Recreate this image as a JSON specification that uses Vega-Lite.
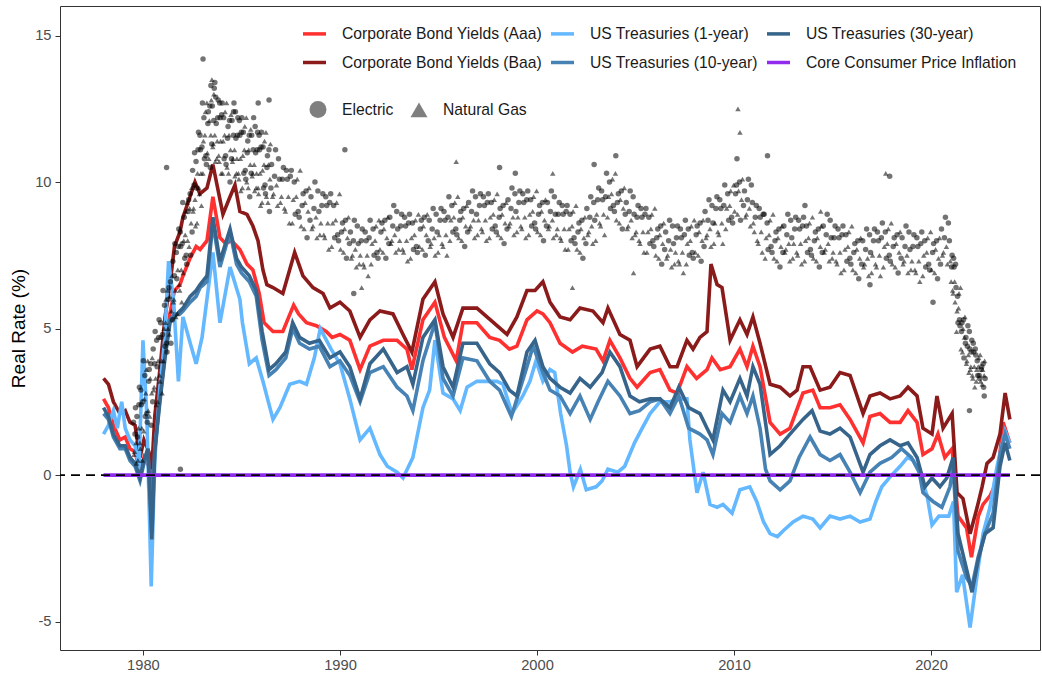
{
"$schema":"https://vega.github.io/schema/vega-lite/v6.json",
"width":980,"height":644,
"autosize":{"type":"none"},
"padding":{"left":60,"top":6,"right":2,"bottom":24},
"background":"white",
"config":{"view":{"stroke":"#333333","strokeWidth":1},"font":"Liberation Sans",
"axis":{"labelFont":"Liberation Sans","labelFontSize":14.7,"labelColor":"#4D4D4D","tickColor":"#333333","tickSize":5,"grid":false,"domain":false,"labelPadding":3,"titleFont":"Liberation Sans","titleFontWeight":"normal","titleColor":"black","titleFontSize":19},
"legend":{"labelFont":"Liberation Sans","labelFontSize":15.7,"labelColor":"#1A1A1A","labelLimit":400,"padding":0}},
"datasets":{
"lines":[
{"d":1978.0,"s":"A","v":2.6},{"d":1978.25,"s":"A","v":2.3},{"d":1978.5,"s":"A","v":1.7},{"d":1978.83,"s":"A","v":1.2},{"d":1979.1,"s":"A","v":1.3},{"d":1979.34,"s":"A","v":0.9},{"d":1979.6,"s":"A","v":0.8},{"d":1979.85,"s":"A","v":0.1},{"d":1980.05,"s":"A","v":0.6},{"d":1980.3,"s":"A","v":0.3},{"d":1980.45,"s":"A","v":-0.5},{"d":1980.6,"s":"A","v":1.2},{"d":1980.86,"s":"A","v":2.8},{"d":1981.12,"s":"A","v":4.5},{"d":1981.37,"s":"A","v":5.5},{"d":1981.6,"s":"A","v":6.3},{"d":1981.88,"s":"A","v":6.5},{"d":1982.03,"s":"A","v":6.8},{"d":1982.39,"s":"A","v":7.4},{"d":1982.7,"s":"A","v":7.8},{"d":1982.9,"s":"A","v":7.7},{"d":1983.25,"s":"A","v":8.0},{"d":1983.55,"s":"A","v":9.5},{"d":1983.91,"s":"A","v":8.1},{"d":1984.2,"s":"A","v":7.9},{"d":1984.5,"s":"A","v":8.0},{"d":1984.92,"s":"A","v":7.7},{"d":1985.28,"s":"A","v":7.2},{"d":1985.58,"s":"A","v":7.0},{"d":1985.9,"s":"A","v":6.2},{"d":1986.15,"s":"A","v":5.2},{"d":1986.6,"s":"A","v":4.9},{"d":1987.1,"s":"A","v":4.9},{"d":1987.65,"s":"A","v":5.8},{"d":1987.9,"s":"A","v":5.5},{"d":1988.3,"s":"A","v":5.2},{"d":1988.8,"s":"A","v":5.1},{"d":1989.3,"s":"A","v":4.9},{"d":1989.6,"s":"A","v":4.7},{"d":1990.0,"s":"A","v":4.8},{"d":1990.5,"s":"A","v":4.6},{"d":1991.02,"s":"A","v":3.6},{"d":1991.52,"s":"A","v":4.4},{"d":1992.2,"s":"A","v":4.6},{"d":1992.9,"s":"A","v":4.6},{"d":1993.4,"s":"A","v":4.3},{"d":1993.65,"s":"A","v":3.6},{"d":1994.21,"s":"A","v":5.3},{"d":1994.82,"s":"A","v":5.9},{"d":1995.3,"s":"A","v":4.7},{"d":1995.9,"s":"A","v":3.9},{"d":1996.24,"s":"A","v":5.2},{"d":1996.95,"s":"A","v":5.2},{"d":1997.6,"s":"A","v":4.7},{"d":1998.1,"s":"A","v":4.6},{"d":1998.6,"s":"A","v":4.3},{"d":1998.98,"s":"A","v":4.4},{"d":1999.49,"s":"A","v":5.3},{"d":2000.0,"s":"A","v":5.6},{"d":2000.3,"s":"A","v":5.5},{"d":2000.66,"s":"A","v":5.2},{"d":2001.17,"s":"A","v":4.5},{"d":2001.8,"s":"A","v":4.2},{"d":2002.3,"s":"A","v":4.4},{"d":2003.0,"s":"A","v":4.3},{"d":2003.35,"s":"A","v":3.9},{"d":2003.7,"s":"A","v":4.6},{"d":2004.21,"s":"A","v":4.0},{"d":2004.72,"s":"A","v":3.3},{"d":2005.08,"s":"A","v":3.0},{"d":2005.74,"s":"A","v":3.5},{"d":2006.24,"s":"A","v":3.6},{"d":2006.75,"s":"A","v":2.9},{"d":2007.11,"s":"A","v":2.8},{"d":2007.61,"s":"A","v":3.7},{"d":2008.1,"s":"A","v":3.3},{"d":2008.63,"s":"A","v":3.6},{"d":2008.88,"s":"A","v":4.0},{"d":2009.3,"s":"A","v":3.6},{"d":2009.8,"s":"A","v":3.7},{"d":2010.3,"s":"A","v":4.3},{"d":2010.66,"s":"A","v":3.7},{"d":2010.96,"s":"A","v":4.4},{"d":2011.32,"s":"A","v":3.7},{"d":2011.83,"s":"A","v":1.8},{"d":2012.34,"s":"A","v":1.4},{"d":2012.84,"s":"A","v":1.6},{"d":2013.5,"s":"A","v":2.8},{"d":2014.0,"s":"A","v":2.9},{"d":2014.37,"s":"A","v":2.3},{"d":2014.87,"s":"A","v":2.3},{"d":2015.38,"s":"A","v":2.4},{"d":2015.89,"s":"A","v":1.9},{"d":2016.55,"s":"A","v":1.1},{"d":2016.9,"s":"A","v":2.0},{"d":2017.41,"s":"A","v":2.1},{"d":2017.92,"s":"A","v":1.8},{"d":2018.43,"s":"A","v":1.8},{"d":2018.83,"s":"A","v":2.2},{"d":2019.29,"s":"A","v":1.8},{"d":2019.59,"s":"A","v":0.7},{"d":2020.05,"s":"A","v":0.9},{"d":2020.35,"s":"A","v":1.4},{"d":2020.7,"s":"A","v":0.6},{"d":2021.07,"s":"A","v":0.9},{"d":2021.37,"s":"A","v":-1.4},{"d":2021.8,"s":"A","v":-1.8},{"d":2022.05,"s":"A","v":-2.8},{"d":2022.4,"s":"A","v":-1.4},{"d":2022.64,"s":"A","v":-1.0},{"d":2023.0,"s":"A","v":-0.7},{"d":2023.35,"s":"A","v":-0.2},{"d":2023.66,"s":"A","v":1.8},{"d":2024.0,"s":"A","v":1.1},
{"d":1978.0,"s":"B","v":3.3},{"d":1978.25,"s":"B","v":3.1},{"d":1978.5,"s":"B","v":2.5},{"d":1978.83,"s":"B","v":2.1},{"d":1979.1,"s":"B","v":2.2},{"d":1979.34,"s":"B","v":1.8},{"d":1979.6,"s":"B","v":1.7},{"d":1979.85,"s":"B","v":0.6},{"d":1980.05,"s":"B","v":1.2},{"d":1980.3,"s":"B","v":0.8},{"d":1980.45,"s":"B","v":0.2},{"d":1980.6,"s":"B","v":2.0},{"d":1980.86,"s":"B","v":3.6},{"d":1981.12,"s":"B","v":5.4},{"d":1981.37,"s":"B","v":6.5},{"d":1981.6,"s":"B","v":7.8},{"d":1981.88,"s":"B","v":8.3},{"d":1982.03,"s":"B","v":8.8},{"d":1982.39,"s":"B","v":9.5},{"d":1982.64,"s":"B","v":10.0},{"d":1982.89,"s":"B","v":9.6},{"d":1983.25,"s":"B","v":9.8},{"d":1983.55,"s":"B","v":10.6},{"d":1983.91,"s":"B","v":9.4},{"d":1984.06,"s":"B","v":8.9},{"d":1984.42,"s":"B","v":9.5},{"d":1984.67,"s":"B","v":9.9},{"d":1984.92,"s":"B","v":9.0},{"d":1985.28,"s":"B","v":8.9},{"d":1985.58,"s":"B","v":8.5},{"d":1985.84,"s":"B","v":8.0},{"d":1986.09,"s":"B","v":7.0},{"d":1986.29,"s":"B","v":6.5},{"d":1986.6,"s":"B","v":6.4},{"d":1987.1,"s":"B","v":6.2},{"d":1987.7,"s":"B","v":7.6},{"d":1988.12,"s":"B","v":6.8},{"d":1988.63,"s":"B","v":6.4},{"d":1989.14,"s":"B","v":6.2},{"d":1989.49,"s":"B","v":5.7},{"d":1990.0,"s":"B","v":5.9},{"d":1990.5,"s":"B","v":5.6},{"d":1991.02,"s":"B","v":4.7},{"d":1991.52,"s":"B","v":5.3},{"d":1992.03,"s":"B","v":5.6},{"d":1992.69,"s":"B","v":5.5},{"d":1993.2,"s":"B","v":4.8},{"d":1993.65,"s":"B","v":4.2},{"d":1994.21,"s":"B","v":6.0},{"d":1994.82,"s":"B","v":6.6},{"d":1995.23,"s":"B","v":5.5},{"d":1995.74,"s":"B","v":4.7},{"d":1996.24,"s":"B","v":5.7},{"d":1996.95,"s":"B","v":5.7},{"d":1997.46,"s":"B","v":5.4},{"d":1997.97,"s":"B","v":5.1},{"d":1998.48,"s":"B","v":4.8},{"d":1998.98,"s":"B","v":5.4},{"d":1999.49,"s":"B","v":6.3},{"d":1999.9,"s":"B","v":6.3},{"d":2000.3,"s":"B","v":6.6},{"d":2000.66,"s":"B","v":5.9},{"d":2001.17,"s":"B","v":5.4},{"d":2001.68,"s":"B","v":5.3},{"d":2002.18,"s":"B","v":5.7},{"d":2002.84,"s":"B","v":5.6},{"d":2003.35,"s":"B","v":5.2},{"d":2003.6,"s":"B","v":5.7},{"d":2004.21,"s":"B","v":4.8},{"d":2004.72,"s":"B","v":4.6},{"d":2005.08,"s":"B","v":3.7},{"d":2005.74,"s":"B","v":4.3},{"d":2006.24,"s":"B","v":4.4},{"d":2006.75,"s":"B","v":3.7},{"d":2007.11,"s":"B","v":3.7},{"d":2007.61,"s":"B","v":4.6},{"d":2007.92,"s":"B","v":4.3},{"d":2008.27,"s":"B","v":4.7},{"d":2008.63,"s":"B","v":4.9},{"d":2008.83,"s":"B","v":7.2},{"d":2009.14,"s":"B","v":6.5},{"d":2009.39,"s":"B","v":6.4},{"d":2009.8,"s":"B","v":4.6},{"d":2010.3,"s":"B","v":5.3},{"d":2010.66,"s":"B","v":4.8},{"d":2010.96,"s":"B","v":5.4},{"d":2011.32,"s":"B","v":4.5},{"d":2011.83,"s":"B","v":3.1},{"d":2012.34,"s":"B","v":3.0},{"d":2012.84,"s":"B","v":2.7},{"d":2013.2,"s":"B","v":2.9},{"d":2013.5,"s":"B","v":3.7},{"d":2013.86,"s":"B","v":3.7},{"d":2014.37,"s":"B","v":2.9},{"d":2014.87,"s":"B","v":3.0},{"d":2015.38,"s":"B","v":3.5},{"d":2015.89,"s":"B","v":3.4},{"d":2016.55,"s":"B","v":2.1},{"d":2016.9,"s":"B","v":2.7},{"d":2017.41,"s":"B","v":2.8},{"d":2017.92,"s":"B","v":2.6},{"d":2018.43,"s":"B","v":2.7},{"d":2018.83,"s":"B","v":3.0},{"d":2019.29,"s":"B","v":2.7},{"d":2019.59,"s":"B","v":1.6},{"d":2020.05,"s":"B","v":1.4},{"d":2020.3,"s":"B","v":2.7},{"d":2020.61,"s":"B","v":1.6},{"d":2021.07,"s":"B","v":2.1},{"d":2021.32,"s":"B","v":-0.6},{"d":2021.62,"s":"B","v":-0.8},{"d":2021.98,"s":"B","v":-2.0},{"d":2022.34,"s":"B","v":-1.1},{"d":2022.59,"s":"B","v":-0.4},{"d":2022.84,"s":"B","v":0.4},{"d":2023.15,"s":"B","v":0.6},{"d":2023.5,"s":"B","v":1.4},{"d":2023.76,"s":"B","v":2.8},{"d":2024.0,"s":"B","v":1.9},
{"d":1978.0,"s":"T1","v":1.4},{"d":1978.25,"s":"T1","v":1.7},{"d":1978.5,"s":"T1","v":2.2},{"d":1978.7,"s":"T1","v":1.6},{"d":1978.92,"s":"T1","v":2.5},{"d":1979.1,"s":"T1","v":1.6},{"d":1979.34,"s":"T1","v":1.2},{"d":1979.6,"s":"T1","v":1.0},{"d":1979.8,"s":"T1","v":0.2},{"d":1980.0,"s":"T1","v":4.6},{"d":1980.2,"s":"T1","v":2.0},{"d":1980.42,"s":"T1","v":-3.8},{"d":1980.6,"s":"T1","v":0.5},{"d":1980.86,"s":"T1","v":3.0},{"d":1981.1,"s":"T1","v":4.6},{"d":1981.3,"s":"T1","v":7.3},{"d":1981.55,"s":"T1","v":6.0},{"d":1981.8,"s":"T1","v":3.2},{"d":1982.03,"s":"T1","v":5.4},{"d":1982.4,"s":"T1","v":4.5},{"d":1982.7,"s":"T1","v":3.8},{"d":1983.0,"s":"T1","v":4.7},{"d":1983.55,"s":"T1","v":7.6},{"d":1983.91,"s":"T1","v":5.2},{"d":1984.42,"s":"T1","v":7.1},{"d":1984.92,"s":"T1","v":6.0},{"d":1985.05,"s":"T1","v":5.2},{"d":1985.4,"s":"T1","v":3.8},{"d":1985.75,"s":"T1","v":4.0},{"d":1986.09,"s":"T1","v":3.2},{"d":1986.6,"s":"T1","v":1.9},{"d":1986.95,"s":"T1","v":2.3},{"d":1987.45,"s":"T1","v":3.1},{"d":1987.95,"s":"T1","v":3.2},{"d":1988.3,"s":"T1","v":3.1},{"d":1988.7,"s":"T1","v":4.0},{"d":1989.0,"s":"T1","v":5.0},{"d":1989.55,"s":"T1","v":4.3},{"d":1990.0,"s":"T1","v":3.8},{"d":1990.5,"s":"T1","v":2.6},{"d":1991.02,"s":"T1","v":1.2},{"d":1991.52,"s":"T1","v":1.6},{"d":1992.03,"s":"T1","v":0.7},{"d":1992.4,"s":"T1","v":0.3},{"d":1992.9,"s":"T1","v":0.1},{"d":1993.2,"s":"T1","v":-0.1},{"d":1993.7,"s":"T1","v":0.6},{"d":1994.21,"s":"T1","v":2.3},{"d":1994.55,"s":"T1","v":2.9},{"d":1994.82,"s":"T1","v":4.6},{"d":1995.23,"s":"T1","v":2.8},{"d":1995.74,"s":"T1","v":2.6},{"d":1996.1,"s":"T1","v":2.2},{"d":1996.45,"s":"T1","v":3.0},{"d":1996.95,"s":"T1","v":3.2},{"d":1997.46,"s":"T1","v":3.2},{"d":1997.97,"s":"T1","v":3.2},{"d":1998.27,"s":"T1","v":3.1},{"d":1998.73,"s":"T1","v":2.1},{"d":1999.28,"s":"T1","v":2.7},{"d":1999.64,"s":"T1","v":3.2},{"d":1999.95,"s":"T1","v":3.9},{"d":2000.3,"s":"T1","v":3.2},{"d":2000.66,"s":"T1","v":3.6},{"d":2000.9,"s":"T1","v":3.5},{"d":2001.2,"s":"T1","v":2.1},{"d":2001.5,"s":"T1","v":1.0},{"d":2001.68,"s":"T1","v":0.1},{"d":2001.85,"s":"T1","v":-0.4},{"d":2002.2,"s":"T1","v":0.2},{"d":2002.5,"s":"T1","v":-0.5},{"d":2003.0,"s":"T1","v":-0.4},{"d":2003.3,"s":"T1","v":-0.2},{"d":2003.6,"s":"T1","v":0.2},{"d":2004.1,"s":"T1","v":0.1},{"d":2004.45,"s":"T1","v":0.3},{"d":2004.95,"s":"T1","v":1.1},{"d":2005.26,"s":"T1","v":1.5},{"d":2005.74,"s":"T1","v":2.1},{"d":2006.24,"s":"T1","v":2.5},{"d":2006.75,"s":"T1","v":2.5},{"d":2007.26,"s":"T1","v":2.6},{"d":2007.61,"s":"T1","v":2.6},{"d":2007.76,"s":"T1","v":1.2},{"d":2008.12,"s":"T1","v":-0.6},{"d":2008.43,"s":"T1","v":0.1},{"d":2008.78,"s":"T1","v":-1.0},{"d":2009.14,"s":"T1","v":-1.1},{"d":2009.44,"s":"T1","v":-1.0},{"d":2009.9,"s":"T1","v":-1.3},{"d":2010.3,"s":"T1","v":-0.5},{"d":2010.8,"s":"T1","v":-0.4},{"d":2011.15,"s":"T1","v":-0.9},{"d":2011.5,"s":"T1","v":-1.6},{"d":2011.83,"s":"T1","v":-2.0},{"d":2012.2,"s":"T1","v":-2.1},{"d":2012.5,"s":"T1","v":-1.9},{"d":2013.0,"s":"T1","v":-1.6},{"d":2013.5,"s":"T1","v":-1.4},{"d":2014.0,"s":"T1","v":-1.5},{"d":2014.37,"s":"T1","v":-1.8},{"d":2014.87,"s":"T1","v":-1.4},{"d":2015.38,"s":"T1","v":-1.5},{"d":2015.89,"s":"T1","v":-1.4},{"d":2016.4,"s":"T1","v":-1.6},{"d":2016.9,"s":"T1","v":-1.5},{"d":2017.2,"s":"T1","v":-0.9},{"d":2017.5,"s":"T1","v":-0.4},{"d":2018.0,"s":"T1","v":0.0},{"d":2018.43,"s":"T1","v":0.3},{"d":2018.8,"s":"T1","v":0.6},{"d":2019.1,"s":"T1","v":0.5},{"d":2019.4,"s":"T1","v":0.1},{"d":2019.8,"s":"T1","v":-0.7},{"d":2020.05,"s":"T1","v":-1.7},{"d":2020.4,"s":"T1","v":-1.4},{"d":2020.9,"s":"T1","v":-1.4},{"d":2021.14,"s":"T1","v":-0.9},{"d":2021.3,"s":"T1","v":-4.0},{"d":2021.6,"s":"T1","v":-3.4},{"d":2021.98,"s":"T1","v":-5.2},{"d":2022.34,"s":"T1","v":-3.4},{"d":2022.64,"s":"T1","v":-2.0},{"d":2022.99,"s":"T1","v":-1.1},{"d":2023.35,"s":"T1","v":0.3},{"d":2023.76,"s":"T1","v":1.5},{"d":2024.0,"s":"T1","v":1.1},
{"d":1978.0,"s":"T10","v":2.1},{"d":1978.25,"s":"T10","v":1.9},{"d":1978.5,"s":"T10","v":1.3},{"d":1978.83,"s":"T10","v":0.9},{"d":1979.1,"s":"T10","v":0.9},{"d":1979.34,"s":"T10","v":0.5},{"d":1979.6,"s":"T10","v":0.3},{"d":1979.85,"s":"T10","v":-0.2},{"d":1980.05,"s":"T10","v":0.4},{"d":1980.25,"s":"T10","v":0.9},{"d":1980.45,"s":"T10","v":-2.0},{"d":1980.6,"s":"T10","v":0.9},{"d":1980.86,"s":"T10","v":2.6},{"d":1981.12,"s":"T10","v":4.1},{"d":1981.37,"s":"T10","v":5.3},{"d":1981.6,"s":"T10","v":5.5},{"d":1981.88,"s":"T10","v":5.5},{"d":1982.03,"s":"T10","v":5.6},{"d":1982.4,"s":"T10","v":5.9},{"d":1982.7,"s":"T10","v":6.1},{"d":1982.9,"s":"T10","v":6.4},{"d":1983.25,"s":"T10","v":6.6},{"d":1983.55,"s":"T10","v":8.6},{"d":1983.91,"s":"T10","v":7.1},{"d":1984.42,"s":"T10","v":8.3},{"d":1984.75,"s":"T10","v":7.2},{"d":1985.0,"s":"T10","v":6.9},{"d":1985.4,"s":"T10","v":6.6},{"d":1985.75,"s":"T10","v":6.1},{"d":1986.05,"s":"T10","v":4.6},{"d":1986.4,"s":"T10","v":3.4},{"d":1986.75,"s":"T10","v":3.6},{"d":1987.25,"s":"T10","v":4.0},{"d":1987.6,"s":"T10","v":5.0},{"d":1987.95,"s":"T10","v":4.5},{"d":1988.45,"s":"T10","v":4.3},{"d":1988.95,"s":"T10","v":4.4},{"d":1989.49,"s":"T10","v":3.7},{"d":1990.0,"s":"T10","v":3.9},{"d":1990.5,"s":"T10","v":3.4},{"d":1991.02,"s":"T10","v":2.5},{"d":1991.52,"s":"T10","v":3.5},{"d":1992.2,"s":"T10","v":3.7},{"d":1992.9,"s":"T10","v":3.0},{"d":1993.4,"s":"T10","v":2.7},{"d":1993.7,"s":"T10","v":2.2},{"d":1994.21,"s":"T10","v":3.9},{"d":1994.82,"s":"T10","v":5.2},{"d":1995.23,"s":"T10","v":3.3},{"d":1995.74,"s":"T10","v":2.7},{"d":1996.24,"s":"T10","v":4.0},{"d":1996.95,"s":"T10","v":3.9},{"d":1997.6,"s":"T10","v":3.2},{"d":1998.1,"s":"T10","v":2.9},{"d":1998.7,"s":"T10","v":2.0},{"d":1998.98,"s":"T10","v":2.6},{"d":1999.49,"s":"T10","v":3.7},{"d":1999.8,"s":"T10","v":4.4},{"d":2000.3,"s":"T10","v":3.5},{"d":2000.66,"s":"T10","v":2.9},{"d":2001.17,"s":"T10","v":2.7},{"d":2001.68,"s":"T10","v":2.1},{"d":2002.18,"s":"T10","v":2.7},{"d":2002.7,"s":"T10","v":1.9},{"d":2003.1,"s":"T10","v":2.5},{"d":2003.6,"s":"T10","v":3.2},{"d":2004.21,"s":"T10","v":2.7},{"d":2004.72,"s":"T10","v":2.1},{"d":2005.2,"s":"T10","v":2.2},{"d":2005.74,"s":"T10","v":2.5},{"d":2006.24,"s":"T10","v":2.6},{"d":2006.75,"s":"T10","v":2.1},{"d":2007.2,"s":"T10","v":2.7},{"d":2007.7,"s":"T10","v":1.6},{"d":2008.27,"s":"T10","v":1.4},{"d":2008.63,"s":"T10","v":1.2},{"d":2008.93,"s":"T10","v":0.7},{"d":2009.39,"s":"T10","v":2.1},{"d":2009.8,"s":"T10","v":1.8},{"d":2010.3,"s":"T10","v":2.7},{"d":2010.66,"s":"T10","v":2.1},{"d":2010.96,"s":"T10","v":2.7},{"d":2011.32,"s":"T10","v":1.6},{"d":2011.6,"s":"T10","v":0.2},{"d":2011.83,"s":"T10","v":-0.2},{"d":2012.34,"s":"T10","v":-0.5},{"d":2012.84,"s":"T10","v":-0.2},{"d":2013.3,"s":"T10","v":0.6},{"d":2013.86,"s":"T10","v":1.3},{"d":2014.37,"s":"T10","v":0.7},{"d":2014.87,"s":"T10","v":0.5},{"d":2015.38,"s":"T10","v":0.7},{"d":2015.89,"s":"T10","v":0.1},{"d":2016.4,"s":"T10","v":-0.6},{"d":2016.9,"s":"T10","v":0.1},{"d":2017.41,"s":"T10","v":0.4},{"d":2018.0,"s":"T10","v":0.6},{"d":2018.5,"s":"T10","v":0.9},{"d":2019.0,"s":"T10","v":0.6},{"d":2019.4,"s":"T10","v":0.1},{"d":2019.59,"s":"T10","v":-0.6},{"d":2020.1,"s":"T10","v":-0.9},{"d":2020.55,"s":"T10","v":-1.1},{"d":2020.96,"s":"T10","v":-0.4},{"d":2021.12,"s":"T10","v":0.3},{"d":2021.37,"s":"T10","v":-2.6},{"d":2021.8,"s":"T10","v":-3.5},{"d":2022.08,"s":"T10","v":-3.8},{"d":2022.39,"s":"T10","v":-2.8},{"d":2022.74,"s":"T10","v":-2.0},{"d":2023.15,"s":"T10","v":-1.3},{"d":2023.5,"s":"T10","v":0.7},{"d":2023.76,"s":"T10","v":1.4},{"d":2024.0,"s":"T10","v":0.9},
{"d":1978.0,"s":"T30","v":2.3},{"d":1978.25,"s":"T30","v":2.0},{"d":1978.5,"s":"T30","v":1.4},{"d":1978.83,"s":"T30","v":1.0},{"d":1979.1,"s":"T30","v":1.0},{"d":1979.34,"s":"T30","v":0.6},{"d":1979.6,"s":"T30","v":0.4},{"d":1979.85,"s":"T30","v":-0.1},{"d":1980.05,"s":"T30","v":0.5},{"d":1980.25,"s":"T30","v":0.9},{"d":1980.45,"s":"T30","v":-2.2},{"d":1980.6,"s":"T30","v":0.8},{"d":1980.86,"s":"T30","v":2.5},{"d":1981.12,"s":"T30","v":4.0},{"d":1981.37,"s":"T30","v":5.2},{"d":1981.6,"s":"T30","v":5.4},{"d":1981.88,"s":"T30","v":5.6},{"d":1982.03,"s":"T30","v":5.7},{"d":1982.4,"s":"T30","v":6.1},{"d":1982.7,"s":"T30","v":6.3},{"d":1982.9,"s":"T30","v":6.5},{"d":1983.25,"s":"T30","v":6.8},{"d":1983.55,"s":"T30","v":8.8},{"d":1983.91,"s":"T30","v":7.3},{"d":1984.42,"s":"T30","v":8.4},{"d":1984.75,"s":"T30","v":7.4},{"d":1985.0,"s":"T30","v":7.1},{"d":1985.4,"s":"T30","v":6.8},{"d":1985.75,"s":"T30","v":6.3},{"d":1986.05,"s":"T30","v":4.9},{"d":1986.4,"s":"T30","v":3.6},{"d":1986.75,"s":"T30","v":3.8},{"d":1987.25,"s":"T30","v":4.2},{"d":1987.6,"s":"T30","v":5.2},{"d":1987.95,"s":"T30","v":4.7},{"d":1988.45,"s":"T30","v":4.5},{"d":1988.95,"s":"T30","v":4.6},{"d":1989.49,"s":"T30","v":4.0},{"d":1990.0,"s":"T30","v":4.2},{"d":1990.5,"s":"T30","v":3.7},{"d":1991.02,"s":"T30","v":2.6},{"d":1991.52,"s":"T30","v":3.8},{"d":1992.2,"s":"T30","v":4.3},{"d":1992.9,"s":"T30","v":3.5},{"d":1993.4,"s":"T30","v":3.7},{"d":1993.7,"s":"T30","v":3.1},{"d":1994.21,"s":"T30","v":4.7},{"d":1994.82,"s":"T30","v":5.3},{"d":1995.23,"s":"T30","v":3.7},{"d":1995.74,"s":"T30","v":3.0},{"d":1996.24,"s":"T30","v":4.5},{"d":1996.95,"s":"T30","v":4.5},{"d":1997.6,"s":"T30","v":3.8},{"d":1998.1,"s":"T30","v":3.5},{"d":1998.6,"s":"T30","v":2.9},{"d":1998.98,"s":"T30","v":2.7},{"d":1999.49,"s":"T30","v":4.2},{"d":1999.9,"s":"T30","v":4.6},{"d":2000.3,"s":"T30","v":3.7},{"d":2000.66,"s":"T30","v":3.3},{"d":2001.17,"s":"T30","v":3.0},{"d":2001.68,"s":"T30","v":2.8},{"d":2002.18,"s":"T30","v":3.3},{"d":2002.7,"s":"T30","v":3.0},{"d":2003.3,"s":"T30","v":3.5},{"d":2003.7,"s":"T30","v":4.2},{"d":2004.21,"s":"T30","v":3.7},{"d":2004.72,"s":"T30","v":2.7},{"d":2005.2,"s":"T30","v":2.5},{"d":2005.74,"s":"T30","v":2.6},{"d":2006.24,"s":"T30","v":2.6},{"d":2006.75,"s":"T30","v":2.3},{"d":2007.2,"s":"T30","v":3.0},{"d":2007.7,"s":"T30","v":2.3},{"d":2008.27,"s":"T30","v":2.1},{"d":2008.63,"s":"T30","v":1.6},{"d":2008.93,"s":"T30","v":1.2},{"d":2009.44,"s":"T30","v":2.9},{"d":2009.8,"s":"T30","v":2.5},{"d":2010.3,"s":"T30","v":3.3},{"d":2010.66,"s":"T30","v":2.7},{"d":2010.96,"s":"T30","v":3.7},{"d":2011.32,"s":"T30","v":3.1},{"d":2011.83,"s":"T30","v":0.7},{"d":2012.34,"s":"T30","v":1.0},{"d":2012.84,"s":"T30","v":1.4},{"d":2013.5,"s":"T30","v":1.9},{"d":2013.96,"s":"T30","v":2.2},{"d":2014.37,"s":"T30","v":1.5},{"d":2014.87,"s":"T30","v":1.4},{"d":2015.38,"s":"T30","v":1.6},{"d":2015.89,"s":"T30","v":1.3},{"d":2016.55,"s":"T30","v":0.1},{"d":2016.9,"s":"T30","v":0.7},{"d":2017.41,"s":"T30","v":1.0},{"d":2017.92,"s":"T30","v":1.2},{"d":2018.43,"s":"T30","v":1.0},{"d":2018.83,"s":"T30","v":1.1},{"d":2019.29,"s":"T30","v":0.6},{"d":2019.69,"s":"T30","v":-0.4},{"d":2020.05,"s":"T30","v":-0.1},{"d":2020.45,"s":"T30","v":-0.4},{"d":2020.8,"s":"T30","v":-0.1},{"d":2021.12,"s":"T30","v":0.6},{"d":2021.37,"s":"T30","v":-2.0},{"d":2021.62,"s":"T30","v":-2.7},{"d":2022.08,"s":"T30","v":-4.0},{"d":2022.39,"s":"T30","v":-2.9},{"d":2022.74,"s":"T30","v":-2.0},{"d":2023.15,"s":"T30","v":-1.8},{"d":2023.5,"s":"T30","v":0.3},{"d":2023.76,"s":"T30","v":1.1},{"d":2024.0,"s":"T30","v":0.5},
{"d":1978.0,"s":"C","v":0},{"d":1990.0,"s":"C","v":0},{"d":2000.0,"s":"C","v":0},{"d":2010.0,"s":"C","v":0},{"d":2024.0,"s":"C","v":0}
],
"pts":[
{"d":1979.52,"v":1.8,"k":"E"},{"d":1979.57,"v":0.8,"k":"G"},{"d":1979.62,"v":2.3,"k":"E"},{"d":1979.67,"v":0.4,"k":"G"},{"d":1979.72,"v":1.3,"k":"E"},
{"d":1979.77,"v":1.6,"k":"G"},{"d":1979.82,"v":3.0,"k":"E"},{"d":1979.87,"v":0.9,"k":"G"},{"d":1979.92,"v":2.4,"k":"E"},{"d":1979.97,"v":0.5,"k":"G"},
{"d":1980.02,"v":3.9,"k":"E"},{"d":1980.07,"v":2.6,"k":"G"},{"d":1980.12,"v":2.0,"k":"E"},{"d":1980.17,"v":3.6,"k":"G"},{"d":1980.22,"v":1.8,"k":"E"},
{"d":1980.27,"v":2.2,"k":"G"},{"d":1980.32,"v":3.6,"k":"E"},{"d":1980.37,"v":3.3,"k":"G"},{"d":1980.42,"v":1.7,"k":"E"},{"d":1980.47,"v":4.0,"k":"G"},
{"d":1980.52,"v":4.3,"k":"E"},{"d":1980.57,"v":3.0,"k":"G"},{"d":1980.62,"v":4.9,"k":"E"},{"d":1980.67,"v":2.4,"k":"G"},{"d":1980.72,"v":3.7,"k":"E"},
{"d":1980.77,"v":3.9,"k":"G"},{"d":1980.82,"v":5.3,"k":"E"},{"d":1980.87,"v":3.2,"k":"G"},{"d":1980.92,"v":4.7,"k":"E"},{"d":1980.97,"v":2.8,"k":"G"},
{"d":1981.02,"v":6.3,"k":"E"},{"d":1981.07,"v":5.0,"k":"G"},{"d":1981.12,"v":4.4,"k":"E"},{"d":1981.17,"v":6.0,"k":"G"},{"d":1981.22,"v":4.2,"k":"E"},
{"d":1981.27,"v":5.0,"k":"G"},{"d":1981.32,"v":6.4,"k":"E"},{"d":1981.37,"v":6.1,"k":"G"},{"d":1981.42,"v":4.5,"k":"E"},{"d":1981.47,"v":6.8,"k":"G"},
{"d":1981.52,"v":7.3,"k":"E"},{"d":1981.57,"v":6.0,"k":"G"},{"d":1981.62,"v":7.9,"k":"E"},{"d":1981.67,"v":5.4,"k":"G"},{"d":1981.72,"v":6.7,"k":"E"},
{"d":1981.77,"v":7.0,"k":"G"},{"d":1981.82,"v":8.4,"k":"E"},{"d":1981.87,"v":6.3,"k":"G"},{"d":1981.92,"v":7.8,"k":"E"},{"d":1981.97,"v":5.9,"k":"G"},
{"d":1982.02,"v":9.3,"k":"E"},{"d":1982.07,"v":8.0,"k":"G"},{"d":1982.12,"v":7.4,"k":"E"},{"d":1982.17,"v":9.0,"k":"G"},{"d":1982.22,"v":7.2,"k":"E"},
{"d":1982.27,"v":8.0,"k":"G"},{"d":1982.32,"v":9.4,"k":"E"},{"d":1982.37,"v":9.1,"k":"G"},{"d":1982.42,"v":7.5,"k":"E"},{"d":1982.47,"v":9.8,"k":"G"},
{"d":1982.52,"v":10.4,"k":"E"},{"d":1982.57,"v":9.1,"k":"G"},{"d":1982.62,"v":11.0,"k":"E"},{"d":1982.67,"v":8.5,"k":"G"},{"d":1982.72,"v":9.8,"k":"E"},
{"d":1982.77,"v":10.3,"k":"G"},{"d":1982.82,"v":11.7,"k":"E"},{"d":1982.87,"v":9.6,"k":"G"},{"d":1982.92,"v":11.1,"k":"E"},{"d":1982.97,"v":9.2,"k":"G"},
{"d":1983.02,"v":12.7,"k":"E"},{"d":1983.07,"v":11.4,"k":"G"},{"d":1983.12,"v":10.8,"k":"E"},{"d":1983.17,"v":12.4,"k":"G"},{"d":1983.22,"v":10.6,"k":"E"},
{"d":1983.27,"v":11.0,"k":"G"},{"d":1983.32,"v":12.4,"k":"E"},{"d":1983.37,"v":12.1,"k":"G"},{"d":1983.42,"v":10.5,"k":"E"},{"d":1983.47,"v":12.8,"k":"G"},
{"d":1983.52,"v":12.6,"k":"E"},{"d":1983.57,"v":11.3,"k":"G"},{"d":1983.62,"v":13.2,"k":"E"},{"d":1983.67,"v":10.7,"k":"G"},{"d":1983.72,"v":12.0,"k":"E"},
{"d":1983.77,"v":11.4,"k":"G"},{"d":1983.82,"v":12.8,"k":"E"},{"d":1983.87,"v":10.7,"k":"G"},{"d":1983.92,"v":12.2,"k":"E"},{"d":1983.97,"v":10.3,"k":"G"},
{"d":1984.02,"v":12.7,"k":"E"},{"d":1984.07,"v":11.4,"k":"G"},{"d":1984.12,"v":10.8,"k":"E"},{"d":1984.17,"v":12.4,"k":"G"},{"d":1984.22,"v":10.6,"k":"E"},
{"d":1984.27,"v":10.5,"k":"G"},{"d":1984.32,"v":11.9,"k":"E"},{"d":1984.37,"v":11.6,"k":"G"},{"d":1984.42,"v":10.0,"k":"E"},{"d":1984.47,"v":12.3,"k":"G"},
{"d":1984.52,"v":12.1,"k":"E"},{"d":1984.57,"v":10.8,"k":"G"},{"d":1984.62,"v":12.7,"k":"E"},{"d":1984.67,"v":10.2,"k":"G"},{"d":1984.72,"v":11.5,"k":"E"},
{"d":1984.77,"v":10.8,"k":"G"},{"d":1984.82,"v":12.2,"k":"E"},{"d":1984.87,"v":10.1,"k":"G"},{"d":1984.92,"v":11.6,"k":"E"},{"d":1984.97,"v":9.7,"k":"G"},
{"d":1985.02,"v":12.2,"k":"E"},{"d":1985.07,"v":10.9,"k":"G"},{"d":1985.12,"v":10.3,"k":"E"},{"d":1985.17,"v":11.9,"k":"G"},{"d":1985.22,"v":10.1,"k":"E"},
{"d":1985.27,"v":10.0,"k":"G"},{"d":1985.32,"v":11.4,"k":"E"},{"d":1985.37,"v":11.1,"k":"G"},{"d":1985.42,"v":9.5,"k":"E"},{"d":1985.47,"v":11.8,"k":"G"},
{"d":1985.52,"v":11.6,"k":"E"},{"d":1985.57,"v":10.3,"k":"G"},{"d":1985.62,"v":12.2,"k":"E"},{"d":1985.67,"v":9.7,"k":"G"},{"d":1985.72,"v":11.0,"k":"E"},
{"d":1985.77,"v":10.3,"k":"G"},{"d":1985.82,"v":11.7,"k":"E"},{"d":1985.87,"v":9.6,"k":"G"},{"d":1985.92,"v":11.1,"k":"E"},{"d":1985.97,"v":9.2,"k":"G"},
{"d":1986.02,"v":11.7,"k":"E"},{"d":1986.07,"v":10.4,"k":"G"},{"d":1986.12,"v":9.8,"k":"E"},{"d":1986.17,"v":11.4,"k":"G"},{"d":1986.22,"v":9.6,"k":"E"},
{"d":1986.27,"v":9.5,"k":"G"},{"d":1986.32,"v":10.9,"k":"E"},{"d":1986.37,"v":10.6,"k":"G"},{"d":1986.42,"v":9.0,"k":"E"},{"d":1986.47,"v":11.3,"k":"G"},
{"d":1986.53,"v":10.6,"k":"E"},{"d":1986.63,"v":9.6,"k":"G"},{"d":1986.73,"v":11.1,"k":"E"},{"d":1986.83,"v":9.2,"k":"G"},{"d":1986.93,"v":10.1,"k":"E"},
{"d":1987.03,"v":9.5,"k":"G"},{"d":1987.13,"v":10.5,"k":"E"},{"d":1987.23,"v":9.0,"k":"G"},{"d":1987.33,"v":10.1,"k":"E"},{"d":1987.43,"v":8.6,"k":"G"},
{"d":1987.53,"v":10.4,"k":"E"},{"d":1987.63,"v":9.4,"k":"G"},{"d":1987.73,"v":8.9,"k":"E"},{"d":1987.83,"v":10.1,"k":"G"},{"d":1987.93,"v":8.8,"k":"E"},
{"d":1988.03,"v":8.5,"k":"G"},{"d":1988.13,"v":9.6,"k":"E"},{"d":1988.23,"v":9.3,"k":"G"},{"d":1988.33,"v":8.1,"k":"E"},{"d":1988.43,"v":9.8,"k":"G"},
{"d":1988.53,"v":9.5,"k":"E"},{"d":1988.63,"v":8.5,"k":"G"},{"d":1988.73,"v":10.0,"k":"E"},{"d":1988.83,"v":8.1,"k":"G"},{"d":1988.93,"v":9.0,"k":"E"},
{"d":1989.03,"v":8.6,"k":"G"},{"d":1989.13,"v":9.6,"k":"E"},{"d":1989.23,"v":8.1,"k":"G"},{"d":1989.33,"v":9.2,"k":"E"},{"d":1989.43,"v":7.7,"k":"G"},
{"d":1989.53,"v":9.6,"k":"E"},{"d":1989.63,"v":8.6,"k":"G"},{"d":1989.73,"v":8.1,"k":"E"},{"d":1989.83,"v":9.3,"k":"G"},{"d":1989.93,"v":8.0,"k":"E"},
{"d":1990.03,"v":7.7,"k":"G"},{"d":1990.13,"v":8.6,"k":"E"},{"d":1990.23,"v":8.4,"k":"G"},{"d":1990.33,"v":7.4,"k":"E"},{"d":1990.43,"v":8.8,"k":"G"},
{"d":1990.53,"v":8.3,"k":"E"},{"d":1990.63,"v":7.5,"k":"G"},{"d":1990.73,"v":8.7,"k":"E"},{"d":1990.83,"v":7.1,"k":"G"},{"d":1990.93,"v":7.9,"k":"E"},
{"d":1991.03,"v":7.5,"k":"G"},{"d":1991.13,"v":8.4,"k":"E"},{"d":1991.23,"v":7.1,"k":"G"},{"d":1991.33,"v":8.0,"k":"E"},{"d":1991.43,"v":6.8,"k":"G"},
{"d":1991.53,"v":8.7,"k":"E"},{"d":1991.63,"v":7.9,"k":"G"},{"d":1991.73,"v":7.5,"k":"E"},{"d":1991.83,"v":8.5,"k":"G"},{"d":1991.93,"v":7.4,"k":"E"},
{"d":1992.03,"v":7.7,"k":"G"},{"d":1992.13,"v":8.6,"k":"E"},{"d":1992.23,"v":8.4,"k":"G"},{"d":1992.33,"v":7.4,"k":"E"},{"d":1992.43,"v":8.8,"k":"G"},
{"d":1992.53,"v":8.8,"k":"E"},{"d":1992.63,"v":8.0,"k":"G"},{"d":1992.73,"v":9.2,"k":"E"},{"d":1992.83,"v":7.6,"k":"G"},{"d":1992.93,"v":8.4,"k":"E"},
{"d":1993.03,"v":8.0,"k":"G"},{"d":1993.13,"v":8.9,"k":"E"},{"d":1993.23,"v":7.6,"k":"G"},{"d":1993.33,"v":8.5,"k":"E"},{"d":1993.43,"v":7.3,"k":"G"},
{"d":1993.53,"v":8.9,"k":"E"},{"d":1993.63,"v":8.1,"k":"G"},{"d":1993.73,"v":7.7,"k":"E"},{"d":1993.83,"v":8.7,"k":"G"},{"d":1993.93,"v":7.6,"k":"E"},
{"d":1994.03,"v":7.8,"k":"G"},{"d":1994.13,"v":8.7,"k":"E"},{"d":1994.23,"v":8.5,"k":"G"},{"d":1994.33,"v":7.5,"k":"E"},{"d":1994.43,"v":8.9,"k":"G"},
{"d":1994.53,"v":8.7,"k":"E"},{"d":1994.63,"v":7.9,"k":"G"},{"d":1994.73,"v":9.1,"k":"E"},{"d":1994.83,"v":7.5,"k":"G"},{"d":1994.93,"v":8.3,"k":"E"},
{"d":1995.03,"v":8.2,"k":"G"},{"d":1995.13,"v":9.1,"k":"E"},{"d":1995.23,"v":7.8,"k":"G"},{"d":1995.33,"v":8.7,"k":"E"},{"d":1995.43,"v":7.5,"k":"G"},
{"d":1995.53,"v":9.5,"k":"E"},{"d":1995.63,"v":8.7,"k":"G"},{"d":1995.73,"v":8.3,"k":"E"},{"d":1995.83,"v":9.3,"k":"G"},{"d":1995.93,"v":8.2,"k":"E"},
{"d":1996.03,"v":8.1,"k":"G"},{"d":1996.13,"v":9.0,"k":"E"},{"d":1996.23,"v":8.8,"k":"G"},{"d":1996.33,"v":7.8,"k":"E"},{"d":1996.43,"v":9.2,"k":"G"},
{"d":1996.53,"v":9.3,"k":"E"},{"d":1996.63,"v":8.5,"k":"G"},{"d":1996.73,"v":9.7,"k":"E"},{"d":1996.83,"v":8.1,"k":"G"},{"d":1996.93,"v":8.9,"k":"E"},
{"d":1997.03,"v":8.7,"k":"G"},{"d":1997.13,"v":9.6,"k":"E"},{"d":1997.23,"v":8.3,"k":"G"},{"d":1997.33,"v":9.2,"k":"E"},{"d":1997.43,"v":8.0,"k":"G"},
{"d":1997.53,"v":9.6,"k":"E"},{"d":1997.63,"v":8.8,"k":"G"},{"d":1997.73,"v":8.4,"k":"E"},{"d":1997.83,"v":9.4,"k":"G"},{"d":1997.93,"v":8.3,"k":"E"},
{"d":1998.03,"v":8.2,"k":"G"},{"d":1998.13,"v":9.1,"k":"E"},{"d":1998.23,"v":8.9,"k":"G"},{"d":1998.33,"v":7.9,"k":"E"},{"d":1998.43,"v":9.3,"k":"G"},
{"d":1998.53,"v":9.4,"k":"E"},{"d":1998.63,"v":8.6,"k":"G"},{"d":1998.73,"v":9.8,"k":"E"},{"d":1998.83,"v":8.2,"k":"G"},{"d":1998.93,"v":9.0,"k":"E"},
{"d":1999.03,"v":8.8,"k":"G"},{"d":1999.13,"v":9.7,"k":"E"},{"d":1999.23,"v":8.4,"k":"G"},{"d":1999.33,"v":9.3,"k":"E"},{"d":1999.43,"v":8.1,"k":"G"},
{"d":1999.53,"v":9.7,"k":"E"},{"d":1999.63,"v":8.9,"k":"G"},{"d":1999.73,"v":8.5,"k":"E"},{"d":1999.83,"v":9.5,"k":"G"},{"d":1999.93,"v":8.4,"k":"E"},
{"d":2000.03,"v":8.3,"k":"G"},{"d":2000.13,"v":9.2,"k":"E"},{"d":2000.23,"v":9.0,"k":"G"},{"d":2000.33,"v":8.0,"k":"E"},{"d":2000.43,"v":9.4,"k":"G"},
{"d":2000.53,"v":9.3,"k":"E"},{"d":2000.63,"v":8.5,"k":"G"},{"d":2000.73,"v":9.7,"k":"E"},{"d":2000.83,"v":8.1,"k":"G"},{"d":2000.93,"v":8.9,"k":"E"},
{"d":2001.03,"v":8.4,"k":"G"},{"d":2001.13,"v":9.3,"k":"E"},{"d":2001.23,"v":8.0,"k":"G"},{"d":2001.33,"v":8.9,"k":"E"},{"d":2001.43,"v":7.7,"k":"G"},
{"d":2001.53,"v":9.2,"k":"E"},{"d":2001.63,"v":8.4,"k":"G"},{"d":2001.73,"v":8.0,"k":"E"},{"d":2001.83,"v":9.0,"k":"G"},{"d":2001.93,"v":7.9,"k":"E"},
{"d":2002.03,"v":7.7,"k":"G"},{"d":2002.13,"v":8.6,"k":"E"},{"d":2002.23,"v":8.4,"k":"G"},{"d":2002.33,"v":7.4,"k":"E"},{"d":2002.43,"v":8.8,"k":"G"},
{"d":2002.53,"v":9.1,"k":"E"},{"d":2002.63,"v":8.3,"k":"G"},{"d":2002.73,"v":9.5,"k":"E"},{"d":2002.83,"v":7.9,"k":"G"},{"d":2002.93,"v":8.7,"k":"E"},
{"d":2003.03,"v":8.9,"k":"G"},{"d":2003.13,"v":9.8,"k":"E"},{"d":2003.23,"v":8.5,"k":"G"},{"d":2003.33,"v":9.4,"k":"E"},{"d":2003.43,"v":8.2,"k":"G"},
{"d":2003.53,"v":10.3,"k":"E"},{"d":2003.63,"v":9.5,"k":"G"},{"d":2003.73,"v":9.1,"k":"E"},{"d":2003.83,"v":10.1,"k":"G"},{"d":2003.93,"v":9.0,"k":"E"},
{"d":2004.03,"v":8.7,"k":"G"},{"d":2004.13,"v":9.6,"k":"E"},{"d":2004.23,"v":9.4,"k":"G"},{"d":2004.33,"v":8.4,"k":"E"},{"d":2004.43,"v":9.8,"k":"G"},
{"d":2004.53,"v":9.3,"k":"E"},{"d":2004.63,"v":8.5,"k":"G"},{"d":2004.73,"v":9.7,"k":"E"},{"d":2004.83,"v":8.1,"k":"G"},{"d":2004.93,"v":8.9,"k":"E"},
{"d":2005.03,"v":8.3,"k":"G"},{"d":2005.13,"v":9.2,"k":"E"},{"d":2005.23,"v":7.9,"k":"G"},{"d":2005.33,"v":8.8,"k":"E"},{"d":2005.43,"v":7.6,"k":"G"},
{"d":2005.53,"v":9.1,"k":"E"},{"d":2005.63,"v":8.3,"k":"G"},{"d":2005.73,"v":7.9,"k":"E"},{"d":2005.83,"v":8.9,"k":"G"},{"d":2005.93,"v":7.8,"k":"E"},
{"d":2006.03,"v":7.5,"k":"G"},{"d":2006.13,"v":8.4,"k":"E"},{"d":2006.23,"v":8.2,"k":"G"},{"d":2006.33,"v":7.2,"k":"E"},{"d":2006.43,"v":8.6,"k":"G"},
{"d":2006.53,"v":8.3,"k":"E"},{"d":2006.63,"v":7.5,"k":"G"},{"d":2006.73,"v":8.7,"k":"E"},{"d":2006.83,"v":7.1,"k":"G"},{"d":2006.93,"v":7.9,"k":"E"},
{"d":2007.03,"v":7.6,"k":"G"},{"d":2007.13,"v":8.5,"k":"E"},{"d":2007.23,"v":7.2,"k":"G"},{"d":2007.33,"v":8.1,"k":"E"},{"d":2007.43,"v":6.9,"k":"G"},
{"d":2007.53,"v":8.7,"k":"E"},{"d":2007.63,"v":7.9,"k":"G"},{"d":2007.73,"v":7.5,"k":"E"},{"d":2007.83,"v":8.5,"k":"G"},{"d":2007.93,"v":7.4,"k":"E"},
{"d":2008.03,"v":7.6,"k":"G"},{"d":2008.13,"v":8.5,"k":"E"},{"d":2008.23,"v":8.3,"k":"G"},{"d":2008.33,"v":7.3,"k":"E"},{"d":2008.43,"v":8.7,"k":"G"},
{"d":2008.53,"v":9.0,"k":"E"},{"d":2008.63,"v":8.2,"k":"G"},{"d":2008.73,"v":9.4,"k":"E"},{"d":2008.83,"v":7.8,"k":"G"},{"d":2008.93,"v":8.6,"k":"E"},
{"d":2009.03,"v":8.6,"k":"G"},{"d":2009.13,"v":9.5,"k":"E"},{"d":2009.23,"v":8.2,"k":"G"},{"d":2009.33,"v":9.1,"k":"E"},{"d":2009.43,"v":7.9,"k":"G"},
{"d":2009.53,"v":9.9,"k":"E"},{"d":2009.63,"v":9.1,"k":"G"},{"d":2009.73,"v":8.7,"k":"E"},{"d":2009.83,"v":9.7,"k":"G"},{"d":2009.93,"v":8.6,"k":"E"},
{"d":2010.03,"v":9.0,"k":"G"},{"d":2010.13,"v":9.9,"k":"E"},{"d":2010.23,"v":9.7,"k":"G"},{"d":2010.33,"v":8.7,"k":"E"},{"d":2010.43,"v":10.1,"k":"G"},
{"d":2010.53,"v":9.7,"k":"E"},{"d":2010.63,"v":8.9,"k":"G"},{"d":2010.73,"v":10.1,"k":"E"},{"d":2010.83,"v":8.5,"k":"G"},{"d":2010.93,"v":9.3,"k":"E"},
{"d":2011.03,"v":8.3,"k":"G"},{"d":2011.13,"v":9.2,"k":"E"},{"d":2011.23,"v":7.9,"k":"G"},{"d":2011.33,"v":8.8,"k":"E"},{"d":2011.43,"v":7.6,"k":"G"},
{"d":2011.53,"v":8.9,"k":"E"},{"d":2011.63,"v":8.1,"k":"G"},{"d":2011.73,"v":7.7,"k":"E"},{"d":2011.83,"v":8.7,"k":"G"},{"d":2011.93,"v":7.6,"k":"E"},
{"d":2012.03,"v":7.4,"k":"G"},{"d":2012.13,"v":8.3,"k":"E"},{"d":2012.23,"v":8.1,"k":"G"},{"d":2012.33,"v":7.1,"k":"E"},{"d":2012.43,"v":8.5,"k":"G"},
{"d":2012.53,"v":8.5,"k":"E"},{"d":2012.63,"v":7.7,"k":"G"},{"d":2012.73,"v":8.9,"k":"E"},{"d":2012.83,"v":7.3,"k":"G"},{"d":2012.93,"v":8.1,"k":"E"},
{"d":2013.03,"v":7.9,"k":"G"},{"d":2013.13,"v":8.8,"k":"E"},{"d":2013.23,"v":7.5,"k":"G"},{"d":2013.33,"v":8.4,"k":"E"},{"d":2013.43,"v":7.2,"k":"G"},
{"d":2013.53,"v":8.8,"k":"E"},{"d":2013.63,"v":8.0,"k":"G"},{"d":2013.73,"v":7.6,"k":"E"},{"d":2013.83,"v":8.6,"k":"G"},{"d":2013.93,"v":7.5,"k":"E"},
{"d":2014.03,"v":7.4,"k":"G"},{"d":2014.13,"v":8.3,"k":"E"},{"d":2014.23,"v":8.1,"k":"G"},{"d":2014.33,"v":7.1,"k":"E"},{"d":2014.43,"v":8.5,"k":"G"},
{"d":2014.53,"v":8.5,"k":"E"},{"d":2014.63,"v":7.7,"k":"G"},{"d":2014.73,"v":8.9,"k":"E"},{"d":2014.83,"v":7.3,"k":"G"},{"d":2014.93,"v":8.1,"k":"E"},
{"d":2015.03,"v":7.6,"k":"G"},{"d":2015.13,"v":8.5,"k":"E"},{"d":2015.23,"v":7.2,"k":"G"},{"d":2015.33,"v":8.1,"k":"E"},{"d":2015.43,"v":6.9,"k":"G"},
{"d":2015.53,"v":8.5,"k":"E"},{"d":2015.63,"v":7.7,"k":"G"},{"d":2015.73,"v":7.3,"k":"E"},{"d":2015.83,"v":8.3,"k":"G"},{"d":2015.93,"v":7.2,"k":"E"},
{"d":2016.03,"v":7.0,"k":"G"},{"d":2016.13,"v":7.9,"k":"E"},{"d":2016.23,"v":7.7,"k":"G"},{"d":2016.33,"v":6.7,"k":"E"},{"d":2016.43,"v":8.1,"k":"G"},
{"d":2016.53,"v":8.0,"k":"E"},{"d":2016.63,"v":7.2,"k":"G"},{"d":2016.73,"v":8.4,"k":"E"},{"d":2016.83,"v":6.8,"k":"G"},{"d":2016.93,"v":7.6,"k":"E"},
{"d":2017.03,"v":7.5,"k":"G"},{"d":2017.13,"v":8.4,"k":"E"},{"d":2017.23,"v":7.1,"k":"G"},{"d":2017.33,"v":8.0,"k":"E"},{"d":2017.43,"v":6.8,"k":"G"},
{"d":2017.53,"v":8.6,"k":"E"},{"d":2017.63,"v":7.8,"k":"G"},{"d":2017.73,"v":7.4,"k":"E"},{"d":2017.83,"v":8.4,"k":"G"},{"d":2017.93,"v":7.3,"k":"E"},
{"d":2018.03,"v":7.2,"k":"G"},{"d":2018.13,"v":8.1,"k":"E"},{"d":2018.23,"v":7.9,"k":"G"},{"d":2018.33,"v":6.9,"k":"E"},{"d":2018.43,"v":8.3,"k":"G"},
{"d":2018.53,"v":8.1,"k":"E"},{"d":2018.63,"v":7.3,"k":"G"},{"d":2018.73,"v":8.5,"k":"E"},{"d":2018.83,"v":6.9,"k":"G"},{"d":2018.93,"v":7.7,"k":"E"},
{"d":2019.03,"v":7.3,"k":"G"},{"d":2019.13,"v":8.2,"k":"E"},{"d":2019.23,"v":6.9,"k":"G"},{"d":2019.33,"v":7.8,"k":"E"},{"d":2019.43,"v":6.6,"k":"G"},
{"d":2019.53,"v":8.3,"k":"E"},{"d":2019.63,"v":7.5,"k":"G"},{"d":2019.73,"v":7.1,"k":"E"},{"d":2019.83,"v":8.1,"k":"G"},{"d":2019.93,"v":7.0,"k":"E"},
{"d":2020.03,"v":7.0,"k":"G"},{"d":2020.13,"v":7.9,"k":"E"},{"d":2020.23,"v":7.7,"k":"G"},{"d":2020.33,"v":6.7,"k":"E"},{"d":2020.43,"v":8.1,"k":"G"},
{"d":2020.53,"v":8.4,"k":"E"},{"d":2020.63,"v":7.6,"k":"G"},{"d":2020.73,"v":8.8,"k":"E"},{"d":2020.83,"v":7.2,"k":"G"},{"d":2020.93,"v":8.0,"k":"E"},
{"d":2021.02,"v":6.6,"k":"G"},{"d":2021.07,"v":7.5,"k":"E"},{"d":2021.12,"v":6.2,"k":"G"},{"d":2021.17,"v":7.1,"k":"E"},{"d":2021.22,"v":5.9,"k":"G"},
{"d":2021.27,"v":6.4,"k":"E"},{"d":2021.32,"v":5.6,"k":"G"},{"d":2021.37,"v":5.2,"k":"E"},{"d":2021.42,"v":6.2,"k":"G"},{"d":2021.47,"v":5.1,"k":"E"},
{"d":2021.52,"v":4.3,"k":"G"},{"d":2021.57,"v":5.2,"k":"E"},{"d":2021.62,"v":5.0,"k":"G"},{"d":2021.67,"v":4.0,"k":"E"},{"d":2021.72,"v":5.4,"k":"G"},
{"d":2021.77,"v":4.7,"k":"E"},{"d":2021.82,"v":3.9,"k":"G"},{"d":2021.87,"v":5.1,"k":"E"},{"d":2021.92,"v":3.5,"k":"G"},{"d":2021.97,"v":4.3,"k":"E"},
{"d":2022.02,"v":3.7,"k":"G"},{"d":2022.07,"v":4.6,"k":"E"},{"d":2022.12,"v":3.3,"k":"G"},{"d":2022.17,"v":4.2,"k":"E"},{"d":2022.22,"v":3.0,"k":"G"},
{"d":2022.27,"v":4.1,"k":"E"},{"d":2022.32,"v":3.6,"k":"G"},{"d":2022.37,"v":3.4,"k":"E"},{"d":2022.42,"v":4.0,"k":"G"},{"d":2022.47,"v":3.3,"k":"E"},
{"d":2022.52,"v":3.2,"k":"G"},{"d":2022.57,"v":3.7,"k":"E"},{"d":2022.62,"v":3.6,"k":"G"},{"d":2022.67,"v":3.0,"k":"E"},{"d":2022.72,"v":3.9,"k":"G"},
{"d":1979.545,"v":0.7,"k":"G"},{"d":1979.595,"v":1.4,"k":"E"},{"d":1979.645,"v":1.1,"k":"G"},{"d":1979.695,"v":2.0,"k":"E"},{"d":1979.745,"v":0.5,"k":"G"},
{"d":1979.795,"v":2.4,"k":"E"},{"d":1979.845,"v":1.1,"k":"G"},{"d":1979.895,"v":2.9,"k":"E"},{"d":1979.945,"v":1.6,"k":"G"},{"d":1979.995,"v":2.5,"k":"E"},
{"d":1980.045,"v":1.5,"k":"G"},{"d":1980.095,"v":3.4,"k":"E"},{"d":1980.145,"v":2.8,"k":"G"},{"d":1980.195,"v":2.1,"k":"E"},{"d":1980.245,"v":3.9,"k":"G"},
{"d":1980.295,"v":3.2,"k":"E"},{"d":1980.345,"v":2.0,"k":"G"},{"d":1980.395,"v":3.8,"k":"E"},{"d":1980.445,"v":2.8,"k":"G"},{"d":1980.495,"v":2.5,"k":"E"},
{"d":1980.545,"v":2.9,"k":"G"},{"d":1980.595,"v":3.8,"k":"E"},{"d":1980.645,"v":3.3,"k":"G"},{"d":1980.695,"v":4.6,"k":"E"},{"d":1980.745,"v":2.5,"k":"G"},
{"d":1980.795,"v":4.7,"k":"E"},{"d":1980.845,"v":3.4,"k":"G"},{"d":1980.895,"v":5.2,"k":"E"},{"d":1980.945,"v":3.9,"k":"G"},{"d":1980.995,"v":4.8,"k":"E"},
{"d":1981.045,"v":3.9,"k":"G"},{"d":1981.095,"v":5.8,"k":"E"},{"d":1981.145,"v":5.2,"k":"G"},{"d":1981.195,"v":4.5,"k":"E"},{"d":1981.245,"v":6.3,"k":"G"},
{"d":1981.295,"v":6.0,"k":"E"},{"d":1981.345,"v":4.8,"k":"G"},{"d":1981.395,"v":6.6,"k":"E"},{"d":1981.445,"v":5.6,"k":"G"},{"d":1981.495,"v":5.3,"k":"E"},
{"d":1981.545,"v":5.9,"k":"G"},{"d":1981.595,"v":6.8,"k":"E"},{"d":1981.645,"v":6.3,"k":"G"},{"d":1981.695,"v":7.6,"k":"E"},{"d":1981.745,"v":5.5,"k":"G"},
{"d":1981.795,"v":7.8,"k":"E"},{"d":1981.845,"v":6.5,"k":"G"},{"d":1981.895,"v":8.3,"k":"E"},{"d":1981.945,"v":7.0,"k":"G"},{"d":1981.995,"v":7.9,"k":"E"},
{"d":1982.045,"v":6.9,"k":"G"},{"d":1982.095,"v":8.8,"k":"E"},{"d":1982.145,"v":8.2,"k":"G"},{"d":1982.195,"v":7.5,"k":"E"},{"d":1982.245,"v":9.3,"k":"G"},
{"d":1982.295,"v":9.0,"k":"E"},{"d":1982.345,"v":7.8,"k":"G"},{"d":1982.395,"v":9.6,"k":"E"},{"d":1982.445,"v":8.6,"k":"G"},{"d":1982.495,"v":8.3,"k":"E"},
{"d":1982.545,"v":9.0,"k":"G"},{"d":1982.595,"v":9.9,"k":"E"},{"d":1982.645,"v":9.4,"k":"G"},{"d":1982.695,"v":10.7,"k":"E"},{"d":1982.745,"v":8.6,"k":"G"},
{"d":1982.795,"v":11.1,"k":"E"},{"d":1982.845,"v":9.8,"k":"G"},{"d":1982.895,"v":11.6,"k":"E"},{"d":1982.945,"v":10.3,"k":"G"},{"d":1982.995,"v":11.2,"k":"E"},
{"d":1983.045,"v":10.3,"k":"G"},{"d":1983.095,"v":12.2,"k":"E"},{"d":1983.145,"v":11.6,"k":"G"},{"d":1983.195,"v":10.9,"k":"E"},{"d":1983.245,"v":12.7,"k":"G"},
{"d":1983.295,"v":12.0,"k":"E"},{"d":1983.345,"v":10.8,"k":"G"},{"d":1983.395,"v":12.6,"k":"E"},{"d":1983.445,"v":11.6,"k":"G"},{"d":1983.495,"v":11.3,"k":"E"},
{"d":1983.545,"v":11.2,"k":"G"},{"d":1983.595,"v":12.1,"k":"E"},{"d":1983.645,"v":11.6,"k":"G"},{"d":1983.695,"v":12.9,"k":"E"},{"d":1983.745,"v":10.8,"k":"G"},
{"d":1983.795,"v":12.2,"k":"E"},{"d":1983.845,"v":10.9,"k":"G"},{"d":1983.895,"v":12.7,"k":"E"},{"d":1983.945,"v":11.4,"k":"G"},{"d":1983.995,"v":12.3,"k":"E"},
{"d":1984.045,"v":10.3,"k":"G"},{"d":1984.095,"v":12.2,"k":"E"},{"d":1984.145,"v":11.6,"k":"G"},{"d":1984.195,"v":10.9,"k":"E"},{"d":1984.245,"v":12.7,"k":"G"},
{"d":1984.295,"v":11.5,"k":"E"},{"d":1984.345,"v":10.3,"k":"G"},{"d":1984.395,"v":12.1,"k":"E"},{"d":1984.445,"v":11.1,"k":"G"},{"d":1984.495,"v":10.8,"k":"E"},
{"d":1984.545,"v":10.7,"k":"G"},{"d":1984.595,"v":11.6,"k":"E"},{"d":1984.645,"v":11.1,"k":"G"},{"d":1984.695,"v":12.4,"k":"E"},{"d":1984.745,"v":10.3,"k":"G"},
{"d":1984.795,"v":11.6,"k":"E"},{"d":1984.845,"v":10.3,"k":"G"},{"d":1984.895,"v":12.1,"k":"E"},{"d":1984.945,"v":10.8,"k":"G"},{"d":1984.995,"v":11.7,"k":"E"},
{"d":1985.045,"v":9.8,"k":"G"},{"d":1985.095,"v":11.7,"k":"E"},{"d":1985.145,"v":11.1,"k":"G"},{"d":1985.195,"v":10.4,"k":"E"},{"d":1985.245,"v":12.2,"k":"G"},
{"d":1985.295,"v":11.0,"k":"E"},{"d":1985.345,"v":9.8,"k":"G"},{"d":1985.395,"v":11.6,"k":"E"},{"d":1985.445,"v":10.6,"k":"G"},{"d":1985.495,"v":10.3,"k":"E"},
{"d":1985.545,"v":10.2,"k":"G"},{"d":1985.595,"v":11.1,"k":"E"},{"d":1985.645,"v":10.6,"k":"G"},{"d":1985.695,"v":11.9,"k":"E"},{"d":1985.745,"v":9.8,"k":"G"},
{"d":1985.795,"v":11.1,"k":"E"},{"d":1985.845,"v":9.8,"k":"G"},{"d":1985.895,"v":11.6,"k":"E"},{"d":1985.945,"v":10.3,"k":"G"},{"d":1985.995,"v":11.2,"k":"E"},
{"d":1986.045,"v":9.3,"k":"G"},{"d":1986.095,"v":11.2,"k":"E"},{"d":1986.145,"v":10.6,"k":"G"},{"d":1986.195,"v":9.9,"k":"E"},{"d":1986.245,"v":11.7,"k":"G"},
{"d":1986.295,"v":10.5,"k":"E"},{"d":1986.345,"v":9.3,"k":"G"},{"d":1986.395,"v":11.1,"k":"E"},{"d":1986.445,"v":10.1,"k":"G"},{"d":1986.495,"v":9.8,"k":"E"},
{"d":1986.58,"v":9.5,"k":"G"},{"d":1986.68,"v":10.2,"k":"E"},{"d":1986.78,"v":9.9,"k":"G"},{"d":1986.88,"v":10.8,"k":"E"},{"d":1986.98,"v":9.3,"k":"G"},
{"d":1987.08,"v":10.1,"k":"E"},{"d":1987.18,"v":9.1,"k":"G"},{"d":1987.28,"v":10.4,"k":"E"},{"d":1987.38,"v":9.5,"k":"G"},{"d":1987.48,"v":10.2,"k":"E"},
{"d":1987.58,"v":8.6,"k":"G"},{"d":1987.68,"v":10.0,"k":"E"},{"d":1987.78,"v":9.5,"k":"G"},{"d":1987.88,"v":9.0,"k":"E"},{"d":1987.98,"v":10.4,"k":"G"},
{"d":1988.08,"v":9.2,"k":"E"},{"d":1988.18,"v":8.4,"k":"G"},{"d":1988.28,"v":9.7,"k":"E"},{"d":1988.38,"v":9.0,"k":"G"},{"d":1988.48,"v":8.7,"k":"E"},
{"d":1988.58,"v":8.4,"k":"G"},{"d":1988.68,"v":9.1,"k":"E"},{"d":1988.78,"v":8.8,"k":"G"},{"d":1988.88,"v":9.7,"k":"E"},{"d":1988.98,"v":8.2,"k":"G"},
{"d":1989.08,"v":9.2,"k":"E"},{"d":1989.18,"v":8.2,"k":"G"},{"d":1989.28,"v":9.5,"k":"E"},{"d":1989.38,"v":8.6,"k":"G"},{"d":1989.48,"v":9.3,"k":"E"},
{"d":1989.58,"v":7.8,"k":"G"},{"d":1989.68,"v":9.2,"k":"E"},{"d":1989.78,"v":8.7,"k":"G"},{"d":1989.88,"v":8.2,"k":"E"},{"d":1989.98,"v":9.6,"k":"G"},
{"d":1990.08,"v":8.3,"k":"E"},{"d":1990.18,"v":7.6,"k":"G"},{"d":1990.28,"v":8.7,"k":"E"},{"d":1990.38,"v":8.1,"k":"G"},{"d":1990.48,"v":7.9,"k":"E"},
{"d":1990.58,"v":7.4,"k":"G"},{"d":1990.68,"v":8.0,"k":"E"},{"d":1990.78,"v":7.7,"k":"G"},{"d":1990.88,"v":8.5,"k":"E"},{"d":1990.98,"v":7.2,"k":"G"},
{"d":1991.08,"v":8.0,"k":"E"},{"d":1991.18,"v":7.2,"k":"G"},{"d":1991.28,"v":8.3,"k":"E"},{"d":1991.38,"v":7.5,"k":"G"},{"d":1991.48,"v":8.1,"k":"E"},
{"d":1991.58,"v":7.2,"k":"G"},{"d":1991.68,"v":8.4,"k":"E"},{"d":1991.78,"v":8.0,"k":"G"},{"d":1991.88,"v":7.6,"k":"E"},{"d":1991.98,"v":8.7,"k":"G"},
{"d":1992.08,"v":8.3,"k":"E"},{"d":1992.18,"v":7.6,"k":"G"},{"d":1992.28,"v":8.7,"k":"E"},{"d":1992.38,"v":8.1,"k":"G"},{"d":1992.48,"v":7.9,"k":"E"},
{"d":1992.58,"v":7.9,"k":"G"},{"d":1992.68,"v":8.5,"k":"E"},{"d":1992.78,"v":8.2,"k":"G"},{"d":1992.88,"v":9.0,"k":"E"},{"d":1992.98,"v":7.7,"k":"G"},
{"d":1993.08,"v":8.5,"k":"E"},{"d":1993.18,"v":7.7,"k":"G"},{"d":1993.28,"v":8.8,"k":"E"},{"d":1993.38,"v":8.0,"k":"G"},{"d":1993.48,"v":8.6,"k":"E"},
{"d":1993.58,"v":7.4,"k":"G"},{"d":1993.68,"v":8.6,"k":"E"},{"d":1993.78,"v":8.2,"k":"G"},{"d":1993.88,"v":7.8,"k":"E"},{"d":1993.98,"v":8.9,"k":"G"},
{"d":1994.08,"v":8.4,"k":"E"},{"d":1994.18,"v":7.7,"k":"G"},{"d":1994.28,"v":8.8,"k":"E"},{"d":1994.38,"v":8.2,"k":"G"},{"d":1994.48,"v":8.0,"k":"E"},
{"d":1994.58,"v":7.8,"k":"G"},{"d":1994.68,"v":8.4,"k":"E"},{"d":1994.78,"v":8.1,"k":"G"},{"d":1994.88,"v":8.9,"k":"E"},{"d":1994.98,"v":7.6,"k":"G"},
{"d":1995.08,"v":8.7,"k":"E"},{"d":1995.18,"v":7.9,"k":"G"},{"d":1995.28,"v":9.0,"k":"E"},{"d":1995.38,"v":8.2,"k":"G"},{"d":1995.48,"v":8.8,"k":"E"},
{"d":1995.58,"v":8.0,"k":"G"},{"d":1995.68,"v":9.2,"k":"E"},{"d":1995.78,"v":8.8,"k":"G"},{"d":1995.88,"v":8.4,"k":"E"},{"d":1995.98,"v":9.5,"k":"G"},
{"d":1996.08,"v":8.7,"k":"E"},{"d":1996.18,"v":8.0,"k":"G"},{"d":1996.28,"v":9.1,"k":"E"},{"d":1996.38,"v":8.5,"k":"G"},{"d":1996.48,"v":8.3,"k":"E"},
{"d":1996.58,"v":8.4,"k":"G"},{"d":1996.68,"v":9.0,"k":"E"},{"d":1996.78,"v":8.7,"k":"G"},{"d":1996.88,"v":9.5,"k":"E"},{"d":1996.98,"v":8.2,"k":"G"},
{"d":1997.08,"v":9.2,"k":"E"},{"d":1997.18,"v":8.4,"k":"G"},{"d":1997.28,"v":9.5,"k":"E"},{"d":1997.38,"v":8.7,"k":"G"},{"d":1997.48,"v":9.3,"k":"E"},
{"d":1997.58,"v":8.1,"k":"G"},{"d":1997.68,"v":9.3,"k":"E"},{"d":1997.78,"v":8.9,"k":"G"},{"d":1997.88,"v":8.5,"k":"E"},{"d":1997.98,"v":9.6,"k":"G"},
{"d":1998.08,"v":8.8,"k":"E"},{"d":1998.18,"v":8.1,"k":"G"},{"d":1998.28,"v":9.2,"k":"E"},{"d":1998.38,"v":8.6,"k":"G"},{"d":1998.48,"v":8.4,"k":"E"},
{"d":1998.58,"v":8.5,"k":"G"},{"d":1998.68,"v":9.1,"k":"E"},{"d":1998.78,"v":8.8,"k":"G"},{"d":1998.88,"v":9.6,"k":"E"},{"d":1998.98,"v":8.3,"k":"G"},
{"d":1999.08,"v":9.3,"k":"E"},{"d":1999.18,"v":8.5,"k":"G"},{"d":1999.28,"v":9.6,"k":"E"},{"d":1999.38,"v":8.8,"k":"G"},{"d":1999.48,"v":9.4,"k":"E"},
{"d":1999.58,"v":8.2,"k":"G"},{"d":1999.68,"v":9.4,"k":"E"},{"d":1999.78,"v":9.0,"k":"G"},{"d":1999.88,"v":8.6,"k":"E"},{"d":1999.98,"v":9.7,"k":"G"},
{"d":2000.08,"v":8.9,"k":"E"},{"d":2000.18,"v":8.2,"k":"G"},{"d":2000.28,"v":9.3,"k":"E"},{"d":2000.38,"v":8.7,"k":"G"},{"d":2000.48,"v":8.5,"k":"E"},
{"d":2000.58,"v":8.4,"k":"G"},{"d":2000.68,"v":9.0,"k":"E"},{"d":2000.78,"v":8.7,"k":"G"},{"d":2000.88,"v":9.5,"k":"E"},{"d":2000.98,"v":8.2,"k":"G"},
{"d":2001.08,"v":8.9,"k":"E"},{"d":2001.18,"v":8.1,"k":"G"},{"d":2001.28,"v":9.2,"k":"E"},{"d":2001.38,"v":8.4,"k":"G"},{"d":2001.48,"v":9.0,"k":"E"},
{"d":2001.58,"v":7.7,"k":"G"},{"d":2001.68,"v":8.9,"k":"E"},{"d":2001.78,"v":8.5,"k":"G"},{"d":2001.88,"v":8.1,"k":"E"},{"d":2001.98,"v":9.2,"k":"G"},
{"d":2002.08,"v":8.3,"k":"E"},{"d":2002.18,"v":7.6,"k":"G"},{"d":2002.28,"v":8.7,"k":"E"},{"d":2002.38,"v":8.1,"k":"G"},{"d":2002.48,"v":7.9,"k":"E"},
{"d":2002.58,"v":8.2,"k":"G"},{"d":2002.68,"v":8.8,"k":"E"},{"d":2002.78,"v":8.5,"k":"G"},{"d":2002.88,"v":9.3,"k":"E"},{"d":2002.98,"v":8.0,"k":"G"},
{"d":2003.08,"v":9.4,"k":"E"},{"d":2003.18,"v":8.6,"k":"G"},{"d":2003.28,"v":9.7,"k":"E"},{"d":2003.38,"v":8.9,"k":"G"},{"d":2003.48,"v":9.5,"k":"E"},
{"d":2003.58,"v":8.8,"k":"G"},{"d":2003.68,"v":10.0,"k":"E"},{"d":2003.78,"v":9.6,"k":"G"},{"d":2003.88,"v":9.2,"k":"E"},{"d":2003.98,"v":10.3,"k":"G"},
{"d":2004.08,"v":9.3,"k":"E"},{"d":2004.18,"v":8.6,"k":"G"},{"d":2004.28,"v":9.7,"k":"E"},{"d":2004.38,"v":9.1,"k":"G"},{"d":2004.48,"v":8.9,"k":"E"},
{"d":2004.58,"v":8.4,"k":"G"},{"d":2004.68,"v":9.0,"k":"E"},{"d":2004.78,"v":8.7,"k":"G"},{"d":2004.88,"v":9.5,"k":"E"},{"d":2004.98,"v":8.2,"k":"G"},
{"d":2005.08,"v":8.8,"k":"E"},{"d":2005.18,"v":8.0,"k":"G"},{"d":2005.28,"v":9.1,"k":"E"},{"d":2005.38,"v":8.3,"k":"G"},{"d":2005.48,"v":8.9,"k":"E"},
{"d":2005.58,"v":7.6,"k":"G"},{"d":2005.68,"v":8.8,"k":"E"},{"d":2005.78,"v":8.4,"k":"G"},{"d":2005.88,"v":8.0,"k":"E"},{"d":2005.98,"v":9.1,"k":"G"},
{"d":2006.08,"v":8.1,"k":"E"},{"d":2006.18,"v":7.4,"k":"G"},{"d":2006.28,"v":8.5,"k":"E"},{"d":2006.38,"v":7.9,"k":"G"},{"d":2006.48,"v":7.7,"k":"E"},
{"d":2006.58,"v":7.4,"k":"G"},{"d":2006.68,"v":8.0,"k":"E"},{"d":2006.78,"v":7.7,"k":"G"},{"d":2006.88,"v":8.5,"k":"E"},{"d":2006.98,"v":7.2,"k":"G"},
{"d":2007.08,"v":8.1,"k":"E"},{"d":2007.18,"v":7.3,"k":"G"},{"d":2007.28,"v":8.4,"k":"E"},{"d":2007.38,"v":7.6,"k":"G"},{"d":2007.48,"v":8.2,"k":"E"},
{"d":2007.58,"v":7.2,"k":"G"},{"d":2007.68,"v":8.4,"k":"E"},{"d":2007.78,"v":8.0,"k":"G"},{"d":2007.88,"v":7.6,"k":"E"},{"d":2007.98,"v":8.7,"k":"G"},
{"d":2008.08,"v":8.2,"k":"E"},{"d":2008.18,"v":7.5,"k":"G"},{"d":2008.28,"v":8.6,"k":"E"},{"d":2008.38,"v":8.0,"k":"G"},{"d":2008.48,"v":7.8,"k":"E"},
{"d":2008.58,"v":8.1,"k":"G"},{"d":2008.68,"v":8.7,"k":"E"},{"d":2008.78,"v":8.4,"k":"G"},{"d":2008.88,"v":9.2,"k":"E"},{"d":2008.98,"v":7.9,"k":"G"},
{"d":2009.08,"v":9.1,"k":"E"},{"d":2009.18,"v":8.3,"k":"G"},{"d":2009.28,"v":9.4,"k":"E"},{"d":2009.38,"v":8.6,"k":"G"},{"d":2009.48,"v":9.2,"k":"E"},
{"d":2009.58,"v":8.4,"k":"G"},{"d":2009.68,"v":9.6,"k":"E"},{"d":2009.78,"v":9.2,"k":"G"},{"d":2009.88,"v":8.8,"k":"E"},{"d":2009.98,"v":9.9,"k":"G"},
{"d":2010.08,"v":9.6,"k":"E"},{"d":2010.18,"v":8.9,"k":"G"},{"d":2010.28,"v":10.0,"k":"E"},{"d":2010.38,"v":9.4,"k":"G"},{"d":2010.48,"v":9.2,"k":"E"},
{"d":2010.58,"v":8.8,"k":"G"},{"d":2010.68,"v":9.4,"k":"E"},{"d":2010.78,"v":9.1,"k":"G"},{"d":2010.88,"v":9.9,"k":"E"},{"d":2010.98,"v":8.6,"k":"G"},
{"d":2011.08,"v":8.8,"k":"E"},{"d":2011.18,"v":8.0,"k":"G"},{"d":2011.28,"v":9.1,"k":"E"},{"d":2011.38,"v":8.3,"k":"G"},{"d":2011.48,"v":8.9,"k":"E"},
{"d":2011.58,"v":7.4,"k":"G"},{"d":2011.68,"v":8.6,"k":"E"},{"d":2011.78,"v":8.2,"k":"G"},{"d":2011.88,"v":7.8,"k":"E"},{"d":2011.98,"v":8.9,"k":"G"},
{"d":2012.08,"v":8.0,"k":"E"},{"d":2012.18,"v":7.3,"k":"G"},{"d":2012.28,"v":8.4,"k":"E"},{"d":2012.38,"v":7.8,"k":"G"},{"d":2012.48,"v":7.6,"k":"E"},
{"d":2012.58,"v":7.6,"k":"G"},{"d":2012.68,"v":8.2,"k":"E"},{"d":2012.78,"v":7.9,"k":"G"},{"d":2012.88,"v":8.7,"k":"E"},{"d":2012.98,"v":7.4,"k":"G"},
{"d":2013.08,"v":8.4,"k":"E"},{"d":2013.18,"v":7.6,"k":"G"},{"d":2013.28,"v":8.7,"k":"E"},{"d":2013.38,"v":7.9,"k":"G"},{"d":2013.48,"v":8.5,"k":"E"},
{"d":2013.58,"v":7.3,"k":"G"},{"d":2013.68,"v":8.5,"k":"E"},{"d":2013.78,"v":8.1,"k":"G"},{"d":2013.88,"v":7.7,"k":"E"},{"d":2013.98,"v":8.8,"k":"G"},
{"d":2014.08,"v":8.0,"k":"E"},{"d":2014.18,"v":7.3,"k":"G"},{"d":2014.28,"v":8.4,"k":"E"},{"d":2014.38,"v":7.8,"k":"G"},{"d":2014.48,"v":7.6,"k":"E"},
{"d":2014.58,"v":7.6,"k":"G"},{"d":2014.68,"v":8.2,"k":"E"},{"d":2014.78,"v":7.9,"k":"G"},{"d":2014.88,"v":8.7,"k":"E"},{"d":2014.98,"v":7.4,"k":"G"},
{"d":2015.08,"v":8.1,"k":"E"},{"d":2015.18,"v":7.3,"k":"G"},{"d":2015.28,"v":8.4,"k":"E"},{"d":2015.38,"v":7.6,"k":"G"},{"d":2015.48,"v":8.2,"k":"E"},
{"d":2015.58,"v":7.0,"k":"G"},{"d":2015.68,"v":8.2,"k":"E"},{"d":2015.78,"v":7.8,"k":"G"},{"d":2015.88,"v":7.4,"k":"E"},{"d":2015.98,"v":8.5,"k":"G"},
{"d":2016.08,"v":7.6,"k":"E"},{"d":2016.18,"v":6.9,"k":"G"},{"d":2016.28,"v":8.0,"k":"E"},{"d":2016.38,"v":7.4,"k":"G"},{"d":2016.48,"v":7.2,"k":"E"},
{"d":2016.58,"v":7.1,"k":"G"},{"d":2016.68,"v":7.7,"k":"E"},{"d":2016.78,"v":7.4,"k":"G"},{"d":2016.88,"v":8.2,"k":"E"},{"d":2016.98,"v":6.9,"k":"G"},
{"d":2017.08,"v":8.0,"k":"E"},{"d":2017.18,"v":7.2,"k":"G"},{"d":2017.28,"v":8.3,"k":"E"},{"d":2017.38,"v":7.5,"k":"G"},{"d":2017.48,"v":8.1,"k":"E"},
{"d":2017.58,"v":7.1,"k":"G"},{"d":2017.68,"v":8.3,"k":"E"},{"d":2017.78,"v":7.9,"k":"G"},{"d":2017.88,"v":7.5,"k":"E"},{"d":2017.98,"v":8.6,"k":"G"},
{"d":2018.08,"v":7.8,"k":"E"},{"d":2018.18,"v":7.1,"k":"G"},{"d":2018.28,"v":8.2,"k":"E"},{"d":2018.38,"v":7.6,"k":"G"},{"d":2018.48,"v":7.4,"k":"E"},
{"d":2018.58,"v":7.2,"k":"G"},{"d":2018.68,"v":7.8,"k":"E"},{"d":2018.78,"v":7.5,"k":"G"},{"d":2018.88,"v":8.3,"k":"E"},{"d":2018.98,"v":7.0,"k":"G"},
{"d":2019.08,"v":7.8,"k":"E"},{"d":2019.18,"v":7.0,"k":"G"},{"d":2019.28,"v":8.1,"k":"E"},{"d":2019.38,"v":7.3,"k":"G"},{"d":2019.48,"v":7.9,"k":"E"},
{"d":2019.58,"v":6.8,"k":"G"},{"d":2019.68,"v":8.0,"k":"E"},{"d":2019.78,"v":7.6,"k":"G"},{"d":2019.88,"v":7.2,"k":"E"},{"d":2019.98,"v":8.3,"k":"G"},
{"d":2020.08,"v":7.6,"k":"E"},{"d":2020.18,"v":6.9,"k":"G"},{"d":2020.28,"v":8.0,"k":"E"},{"d":2020.38,"v":7.4,"k":"G"},{"d":2020.48,"v":7.2,"k":"E"},
{"d":2020.58,"v":7.5,"k":"G"},{"d":2020.68,"v":8.1,"k":"E"},{"d":2020.78,"v":7.8,"k":"G"},{"d":2020.88,"v":8.6,"k":"E"},{"d":2020.98,"v":7.3,"k":"G"},
{"d":2021.045,"v":7.1,"k":"E"},{"d":2021.095,"v":6.3,"k":"G"},{"d":2021.145,"v":7.4,"k":"E"},{"d":2021.195,"v":6.6,"k":"G"},{"d":2021.245,"v":7.2,"k":"E"},
{"d":2021.295,"v":4.9,"k":"G"},{"d":2021.345,"v":6.1,"k":"E"},{"d":2021.395,"v":5.7,"k":"G"},{"d":2021.445,"v":5.3,"k":"E"},{"d":2021.495,"v":6.4,"k":"G"},
{"d":2021.545,"v":4.9,"k":"E"},{"d":2021.595,"v":4.2,"k":"G"},{"d":2021.645,"v":5.3,"k":"E"},{"d":2021.695,"v":4.7,"k":"G"},{"d":2021.745,"v":4.5,"k":"E"},
{"d":2021.795,"v":3.8,"k":"G"},{"d":2021.845,"v":4.4,"k":"E"},{"d":2021.895,"v":4.1,"k":"G"},{"d":2021.945,"v":4.9,"k":"E"},{"d":2021.995,"v":3.6,"k":"G"},
{"d":2022.045,"v":4.2,"k":"E"},{"d":2022.095,"v":3.4,"k":"G"},{"d":2022.145,"v":4.5,"k":"E"},{"d":2022.195,"v":3.7,"k":"G"},{"d":2022.245,"v":4.3,"k":"E"},
{"d":2022.295,"v":3.2,"k":"G"},{"d":2022.345,"v":3.9,"k":"E"},{"d":2022.395,"v":3.7,"k":"G"},{"d":2022.445,"v":3.4,"k":"E"},{"d":2022.495,"v":4.1,"k":"G"},
{"d":2022.545,"v":3.6,"k":"E"},{"d":2022.595,"v":3.1,"k":"G"},{"d":2022.645,"v":3.8,"k":"E"},{"d":2022.695,"v":3.4,"k":"G"},{"d":2022.745,"v":3.3,"k":"E"},
{"d":1983.05,"v":14.2,"k":"E"},{"d":1983.45,"v":13.3,"k":"E"},{"d":1983.5,"v":13.5,"k":"G"},{"d":1983.6,"v":13.0,"k":"G"},{"d":1983.65,"v":13.4,"k":"E"},{"d":1981.2,"v":10.5,"k":"E"},{"d":1981.9,"v":0.2,"k":"E"},{"d":1984.6,"v":12.4,"k":"E"},{"d":1985.85,"v":12.7,"k":"E"},{"d":1986.4,"v":12.8,"k":"E"},
{"d":1990.25,"v":11.1,"k":"E"},{"d":1995.9,"v":10.7,"k":"G"},{"d":1998.1,"v":10.5,"k":"E"},{"d":1998.9,"v":10.3,"k":"E"},{"d":2000.8,"v":10.3,"k":"G"},{"d":2004.0,"v":10.9,"k":"E"},{"d":2002.9,"v":10.6,"k":"E"},{"d":1990.7,"v":6.2,"k":"E"},{"d":1991.1,"v":6.4,"k":"G"},{"d":2001.8,"v":6.4,"k":"G"},{"d":2004.9,"v":6.9,"k":"G"},
{"d":2010.2,"v":12.5,"k":"G"},{"d":2010.3,"v":11.7,"k":"G"},{"d":2010.15,"v":10.8,"k":"E"},{"d":2011.7,"v":10.9,"k":"E"},{"d":2017.7,"v":10.3,"k":"G"},{"d":2017.9,"v":10.2,"k":"E"},{"d":2013.6,"v":9.2,"k":"E"},{"d":2014.4,"v":9.0,"k":"G"},{"d":2020.1,"v":5.9,"k":"E"},{"d":2016.9,"v":6.5,"k":"E"},{"d":2021.95,"v":2.2,"k":"E"},{"d":2022.7,"v":2.7,"k":"E"}
]},
"layer":[
{"data":{"name":"lines"},
 "mark":{"type":"line","strokeWidth":3.6},
 "encoding":{
  "x":{"field":"d","type":"quantitative","scale":{"domain":[1975.79,2025.53],"nice":false,"zero":false},"axis":{"values":[1980,1990,2000,2010,2020],"format":"d","title":null,"labelPadding":2}},
  "y":{"field":"v","type":"quantitative","scale":{"domain":[-5.97,16.01],"nice":false,"zero":false},"axis":{"values":[-5,0,5,10,15],"title":"Real Rate (%)","titlePadding":6,"labelPadding":4,"labelExpr":"datum.value < 0 ? '-' + abs(datum.value) : '' + datum.value"}},
  "color":{"field":"s","type":"nominal","scale":{"domain":["A","B","T1","T10","T30","C"],"range":["#FF3030","#8B1A1A","#63B8FF","#4682B4","#36648B","#912CEE"]},
   "legend":{"orient":"none","legendX":241,"legendY":14,"columns":3,"title":null,"symbolType":"stroke","symbolSize":529,"symbolStrokeWidth":3.5,"labelOffset":14,"columnPadding":2,"rowPadding":7,
   "labelExpr":"datum.label == 'A' ? 'Corporate Bond Yields (Aaa)' : datum.label == 'B' ? 'Corporate Bond Yields (Baa)' : datum.label == 'T1' ? 'US Treasuries (1-year)' : datum.label == 'T10' ? 'US Treasuries (10-year)' : datum.label == 'T30' ? 'US Treasuries (30-year)' : 'Core Consumer Price Inflation'"}}}},
{"data":{"name":"pts"},
 "mark":{"type":"point","filled":true,"size":30,"opacity":0.55,"color":"black","strokeWidth":0},
 "encoding":{
  "x":{"field":"d","type":"quantitative","scale":{"domain":[1975.79,2025.53],"nice":false,"zero":false}},
  "y":{"field":"v","type":"quantitative","scale":{"domain":[-5.97,16.01],"nice":false,"zero":false}},
  "shape":{"field":"k","type":"nominal","scale":{"domain":["E","G"],"range":["circle","triangle-up"]},
   "legend":{"orient":"none","legendX":249.5,"legendY":95,"direction":"horizontal","title":null,"symbolSize":289,"symbolOpacity":0.5,"symbolStrokeWidth":0,"labelOffset":15.5,"columnPadding":17,
   "labelExpr":"datum.label == 'E' ? 'Electric' : 'Natural Gas'"}}}},
{"data":{"values":[{}]},
 "mark":{"type":"rule","strokeDash":[9,6],"strokeWidth":1.8,"color":"black"},
 "encoding":{"y":{"datum":0}}}
]
}
